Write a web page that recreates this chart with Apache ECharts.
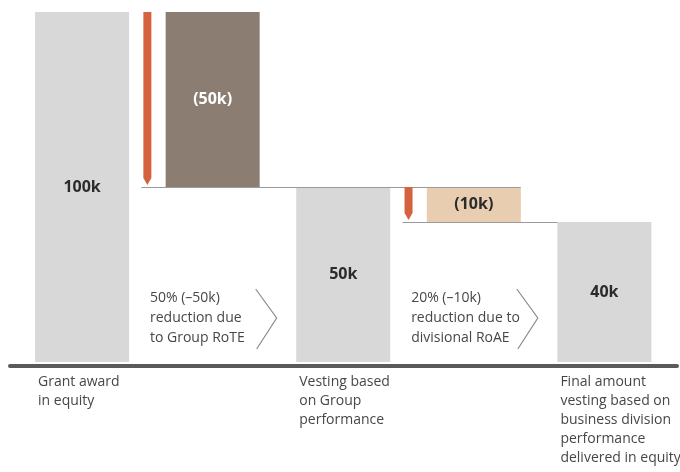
<!DOCTYPE html>
<html>
<head>
<meta charset="utf-8">
<script src="https://cdn.jsdelivr.net/npm/echarts@6/dist/echarts.min.js"></script>
<style>
  html, body { margin: 0; padding: 0; background: #ffffff; }
  #chart { width: 680px; height: 472px; }
</style>
</head>
<body>
<div id="chart"></div>
<script>
// Deferred award waterfall: grant, two performance reductions, final vesting (values in k)
const steps = ['Grant award', 'Group RoTE reduction', 'Group vesting', 'Divisional RoAE reduction', 'Final vesting'];
const stepKinds = ['total', 'reduction', 'total', 'reduction', 'total'];
const stepLow = [0, 50, 0, 40, 0];
const stepHigh = [100, 100, 50, 50, 40];
const valueLabels = ['100k', '(50k)', '50k', '(10k)', '40k'];
const categoryLabels = [
  'Grant award\nin equity',
  '',
  'Vesting based\non Group\nperformance',
  '',
  'Final amount\nvesting based on\nbusiness division\nperformance\ndelivered in equity'
];
const reductionNotes = [
  '',
  '50% (–50k)\nreduction due\nto Group RoTE',
  '',
  '20% (–10k)\nreduction due to\ndivisional RoAE',
  ''
];
// [from step, to step, level]
const connectors = [[1, 3, 50], [3, 4, 40]];

// styling
const barFill = ['#d8d8d8', '#8c7d72', '#d8d8d8', '#e8cdb0', '#d8d8d8'];
const labelFill = ['#2b2b2b', '#ffffff', '#2b2b2b', '#2b2b2b', '#2b2b2b'];
const ARROW_COLOR = '#d5623f';
const LINE_COLOR = '#9a9a9a';
const TEXT_COLOR = '#474747';
const FONT = '"Open Sans", "Noto Sans", sans-serif';
const BAR_RATIO = 0.72;

const chart = echarts.init(document.getElementById('chart'), null, { renderer: 'canvas' });

function barHalf(api) { return api.size([1, 0])[0] * BAR_RATIO / 2; }

function renderBar(params, api) {
  const i = api.value(0);
  const half = barHalf(api);
  const top = api.coord([i, api.value(2)]);
  const bottom = api.coord([i, api.value(1)]);
  return {
    type: 'rect',
    shape: { x: top[0] - half, y: top[1], width: half * 2, height: bottom[1] - top[1] },
    style: { fill: barFill[i] },
    textContent: {
      style: { text: valueLabels[i], fill: labelFill[i], font: 'bold 16px ' + FONT }
    },
    textConfig: { position: 'inside' }
  };
}

function arrowCenter(api, i) {
  // arrow sits in the gap before the reduction bar
  return api.coord([i - 0.5, 0])[0];
}

function renderArrow(params, api) {
  const i = api.value(0);
  const cx = arrowCenter(api, i);
  const yTop = api.coord([i, api.value(2)])[1];
  const yTip = api.coord([i, api.value(1)])[1] - 2;
  return {
    type: 'polygon',
    shape: {
      points: [[cx - 4, yTop], [cx + 4, yTop], [cx + 4, yTip - 7], [cx, yTip], [cx - 4, yTip - 7]]
    },
    style: { fill: ARROW_COLOR }
  };
}

function renderConnector(params, api) {
  const from = api.value(0);
  const to = api.value(1);
  const level = api.value(2);
  const half = barHalf(api);
  const y = api.coord([from, level])[1];
  const x0 = arrowCenter(api, from) - 6;
  const toCenter = api.coord([to, level])[0];
  const x1 = stepKinds[to] === 'total' ? toCenter - half : toCenter + half;
  return {
    type: 'line',
    shape: { x1: x0, y1: y + 0.5, x2: x1, y2: y + 0.5 },
    style: { stroke: LINE_COLOR, lineWidth: 1.2 }
  };
}

function renderNote(params, api) {
  const i = api.value(0);
  const base = api.coord([i, 0]);
  const cx = base[0];
  const b = base[1];
  return {
    type: 'group',
    children: [
      {
        type: 'text',
        style: {
          x: api.coord([i - 0.48, 0])[0], y: b - 14,
          text: reductionNotes[i], fill: TEXT_COLOR, font: '14px ' + FONT,
          lineHeight: 20, align: 'left', verticalAlign: 'bottom'
        }
      },
      {
        type: 'polyline',
        shape: { points: [[cx + 43, b - 73], [cx + 64, b - 44], [cx + 44, b - 13]] },
        style: { stroke: '#8a8a8a', lineWidth: 1.2, fill: null }
      }
    ]
  };
}

function renderCategory(params, api) {
  const i = api.value(0);
  const half = barHalf(api);
  const p = api.coord([i, 0]);
  return {
    type: 'text',
    style: {
      x: p[0] - half + 3, y: p[1] + 11,
      text: categoryLabels[i], fill: TEXT_COLOR, font: '14px ' + FONT,
      lineHeight: 19, align: 'left', verticalAlign: 'top'
    }
  };
}

const barData = steps.map((s, i) => [i, stepLow[i], stepHigh[i]]);
const reductionData = barData.filter((d) => stepKinds[d[0]] === 'reduction');
const labelData = steps.map((s, i) => [i, 0]).filter((d) => categoryLabels[d[0]] !== '');

chart.setOption({
  animation: false,
  grid: { left: 10, right: 3, top: 12, bottom: 106.5 },
  xAxis: {
    type: 'value', min: -0.552, max: 4.556,
    axisLine: { show: true, onZero: false, lineStyle: { color: '#5a5a5a', width: 4 } },
    axisTick: { show: false }, axisLabel: { show: false }, splitLine: { show: false }
  },
  yAxis: { type: 'value', min: -1, max: 100, show: false },
  series: [
    { type: 'custom', name: 'bars', renderItem: renderBar, data: barData, clip: false, silent: true, z: 2 },
    { type: 'custom', name: 'connectors', renderItem: renderConnector, data: connectors, clip: false, silent: true, z: 3 },
    { type: 'custom', name: 'arrows', renderItem: renderArrow, data: reductionData, clip: false, silent: true, z: 4 },
    { type: 'custom', name: 'notes', renderItem: renderNote, data: reductionData, clip: false, silent: true, z: 4 },
    { type: 'custom', name: 'categories', renderItem: renderCategory, data: labelData, clip: false, silent: true, z: 4 }
  ]
});
</script>
</body>
</html>
